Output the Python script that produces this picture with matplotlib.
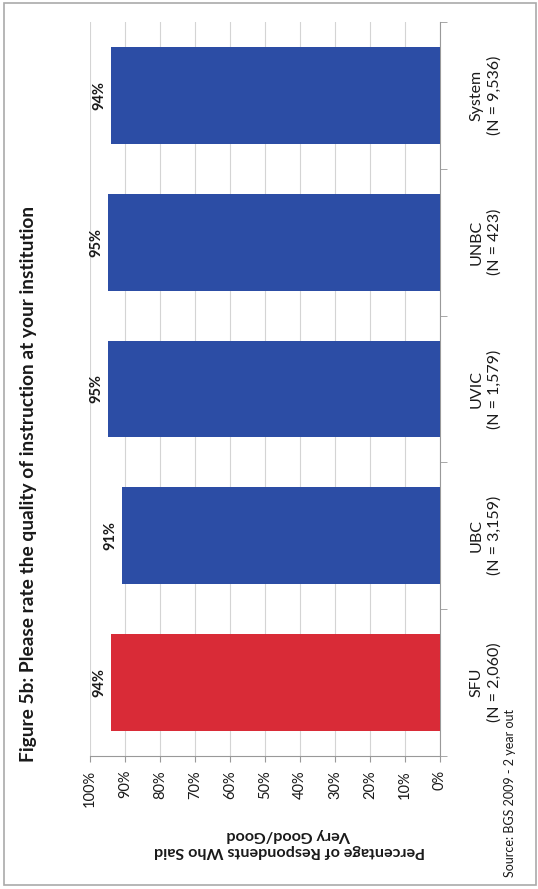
import numpy as np
import matplotlib.pyplot as plt
from matplotlib.patches import Rectangle
from matplotlib.ticker import FixedLocator

plt.rcParams['font.family'] = ['Lato', 'DejaVu Sans']

# data (page is scanned sideways, so the chart is drawn rotated)
schools = ['SFU', 'UBC', 'UVIC', 'UNBC', 'System']
counts = ['2,060', '3,159', '1,579', '423', '9,536']
pct = [94, 91, 95, 95, 94]
colors = ['#D92B37', '#2C4DA5', '#2C4DA5', '#2C4DA5', '#2C4DA5']

fig = plt.figure(figsize=(5.38, 8.89), dpi=100)
ax = fig.add_axes([90/538, 133/889, 350/538, 734/889])

y = np.arange(len(schools))
ax.barh(y, pct, height=0.66, color=colors, zorder=3)
ax.set_xlim(100, 0)
ax.set_ylim(-0.5, len(schools) - 0.5)

# value labels at the end of each bar
for yi, v in zip(y, pct):
    ax.text(v + 1.2, yi, '%d%%' % v, rotation=90, ha='right', va='center',
            fontsize=10.5, fontweight='bold', color='#1a1a1a')

# value axis (bottom)
ax.set_xticks(np.arange(0, 101, 10))
ax.set_xticklabels(['%d%%' % t for t in range(0, 101, 10)], rotation=90,
                   fontsize=10.5, color='#1a1a1a')
ax.tick_params(axis='x', length=4, color='#999999', pad=6)
ax.grid(axis='x', color='#d4d4d4', lw=0.8, zorder=0)

# category axis (right)
ax.yaxis.tick_right()
ax.set_yticks(y)
ax.set_yticklabels(['%s\n(N = %s)' % (s, n) for s, n in zip(schools, counts)],
                   rotation=90, ha='center', va='center', fontsize=11.5,
                   color='#1a1a1a', linespacing=1.35)
ax.yaxis.set_minor_locator(FixedLocator(np.arange(-0.5, len(schools), 1)))
ax.tick_params(axis='y', which='major', length=0, pad=33)
ax.tick_params(axis='y', which='minor', length=5, color='#999999')

for s in ['top', 'left']:
    ax.spines[s].set_visible(False)
for s in ['bottom', 'right']:
    ax.spines[s].set_color('#999999')
    ax.spines[s].set_linewidth(0.8)

ax.set_xlabel('Percentage of Respondents Who Said\nVery Good/Good', rotation=180,
              fontsize=11.6, fontweight='bold', color='#1a1a1a', linespacing=1.25,
              va='center')
ax.xaxis.set_label_coords(0.569, -0.1185)

fig.text(29/538, 1 - 484/889,
         'Figure 5b: Please rate the quality of instruction at your institution',
         rotation=90, ha='center', va='center', fontsize=13.8, fontweight='bold',
         color='#1a1a1a')
fig.text(510/538, 1 - 877/889, 'Source: BGS 2009 - 2 year out', rotation=90,
         ha='center', va='bottom', fontsize=9.0, color='#1a1a1a')

# page border of the scan
fig.patches.append(Rectangle((4/538, 4/889), 532/538, 882/889, fill=False,
                             edgecolor='#aaaaaa', lw=1.2,
                             transform=fig.transFigure))

fig.savefig('out.png', dpi=100)
